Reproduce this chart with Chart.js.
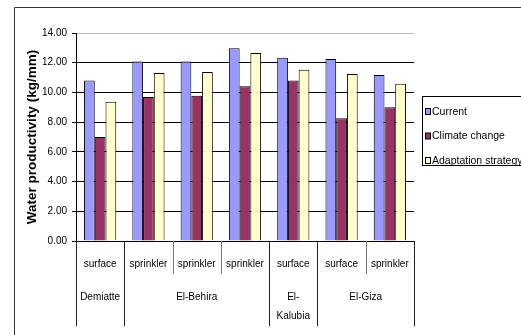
<!DOCTYPE html>
<html>
<head>
<meta charset="utf-8">
<script src="https://cdn.jsdelivr.net/npm/chart.js@4.4.0/dist/chart.umd.min.js"></script>
<style>
  html, body { margin: 0; padding: 0; background: #fff; }
  canvas { display: block; }
</style>
</head>
<body>
<canvas id="wpChart" width="521" height="335"></canvas>
<script>
// water productivity per site / irrigation system
const regions = ['Demiatte', 'El-Behira', 'El-Behira', 'El-Behira', 'El-Kalubia', 'El-Giza', 'El-Giza'];
const systems = ['surface', 'sprinkler', 'sprinkler', 'sprinkler', 'surface', 'surface', 'sprinkler'];
const current = [10.81, 12.09, 12.09, 12.97, 12.33, 12.25, 11.17];
const climateChange = [7.00, 9.69, 9.78, 10.41, 10.81, 8.26, 9.00];
const adaptation = [9.38, 11.31, 11.37, 12.65, 11.53, 11.24, 10.59];
const seriesNames = ['Current', 'Climate change', 'Adaptation strategy'];
const yTicks = [0, 2, 4, 6, 8, 10, 12, 14];

const FONT = '"Liberation Sans", Arial, sans-serif';

// white page + outer chart frame
const frame = {
    id: 'frame',
    beforeDraw(chart) {
        const ctx = chart.ctx;
        ctx.save();
        ctx.fillStyle = '#fff';
        ctx.fillRect(0, 0, chart.width, chart.height);
        ctx.strokeStyle = '#333';
        ctx.lineWidth = 1;
        ctx.beginPath();
        ctx.moveTo(14.5, chart.height);
        ctx.lineTo(14.5, 7.5);
        ctx.lineTo(chart.width, 7.5);
        ctx.stroke();
        ctx.restore();
    }
};

// two-level category axis: system on the first row, region below
const xLevels = {
    id: 'xLevels',
    afterDraw(chart) {
        const { ctx, chartArea, scales: { x } } = chart;
        const edge = i => x.getPixelForValue(i - 0.5);
        const top = chartArea.bottom;

        const groups = [];
        regions.forEach((r, i) => {
            const g = groups[groups.length - 1];
            if (g && g.name === r) g.end = i;
            else groups.push({ name: r, start: i, end: i });
        });
        const groupEdges = new Set();
        groups.forEach(g => { groupEdges.add(g.start); groupEdges.add(g.end + 1); });

        ctx.save();
        ctx.lineWidth = 1;
        for (let i = 0; i <= systems.length; i++) {
            const px = Math.round(edge(i)) + 0.5;
            const outer = groupEdges.has(i);
            ctx.strokeStyle = outer ? '#222' : '#777';
            ctx.beginPath();
            ctx.moveTo(px, top);
            ctx.lineTo(px, outer ? top + 85 : top + 33);
            ctx.stroke();
        }

        ctx.fillStyle = '#000';
        ctx.font = '10px ' + FONT;
        ctx.textAlign = 'center';
        ctx.textBaseline = 'middle';
        systems.forEach((s, i) => ctx.fillText(s, x.getPixelForValue(i), top + 23));

        groups.forEach(g => {
            const cx = (edge(g.start) + edge(g.end + 1)) / 2;
            const w = edge(g.end + 1) - edge(g.start) - 6;
            let lines = [g.name];
            if (ctx.measureText(g.name).width > w && g.name.includes('-')) {
                const k = g.name.indexOf('-') + 1;
                lines = [g.name.slice(0, k), g.name.slice(k)];
            }
            lines.forEach((t, j) => ctx.fillText(t, cx, top + 56 + j * 19));
        });
        ctx.restore();
    }
};

// rotated y title and boxed legend on the right
const extras = {
    id: 'extras',
    afterDraw(chart) {
        const { ctx, chartArea } = chart;
        ctx.save();
        ctx.fillStyle = '#000';
        ctx.font = 'bold 13.5px ' + FONT;
        ctx.textAlign = 'center';
        ctx.textBaseline = 'middle';
        ctx.translate(32, (chartArea.top + chartArea.bottom) / 2);
        ctx.rotate(-Math.PI / 2);
        ctx.fillText('Water productivity (kg/mm)', 0, 0);
        ctx.restore();

        ctx.save();
        ctx.strokeStyle = '#000';
        ctx.lineWidth = 1;
        ctx.fillStyle = '#fff';
        ctx.fillRect(422.5, 96.5, 110, 69);
        ctx.strokeRect(422.5, 96.5, 110, 69);
        ctx.font = '10.5px ' + FONT;
        ctx.textBaseline = 'middle';
        chart.data.datasets.forEach((ds, i) => {
            const y = 112 + i * 24.5;
            ctx.fillStyle = ds.backgroundColor;
            ctx.fillRect(425.5, y - 3.5, 5, 6);
            ctx.strokeRect(425.5, y - 3.5, 5, 6);
            ctx.fillStyle = '#000';
            ctx.fillText(ds.label, 432, y);
        });
        ctx.restore();
    }
};

new Chart(document.getElementById('wpChart'), {
    type: 'bar',
    data: {
        labels: systems,
        datasets: [
            { label: seriesNames[0], data: current, backgroundColor: '#9999ff' },
            { label: seriesNames[1], data: climateChange, backgroundColor: '#993366' },
            { label: seriesNames[2], data: adaptation, backgroundColor: '#ffffcc' }
        ].map(ds => Object.assign(ds, {
            borderColor: '#000',
            borderWidth: 1,
            categoryPercentage: 0.667,
            barPercentage: 1
        }))
    },
    options: {
        responsive: false,
        animation: false,
        layout: { padding: { left: 0, top: 33, right: 107, bottom: 0 } },
        plugins: { legend: { display: false }, tooltip: { enabled: false } },
        scales: {
            x: {
                grid: { display: false },
                border: { color: '#000' },
                ticks: { display: false },
                afterFit: s => { s.height = 94; }
            },
            y: {
                min: 0,
                max: 14,
                afterBuildTicks: s => { s.ticks = yTicks.map(v => ({ value: v })); },
                afterFit: s => { s.width = 76; },
                grid: {
                    color: c => (c.tick && c.tick.value === 14 ? '#bbb' : '#000'),
                    tickColor: '#000',
                    tickLength: 4,
                    lineWidth: 1
                },
                border: { color: '#000' },
                ticks: {
                    padding: 5,
                    color: '#000',
                    font: { family: FONT, size: 10 },
                    callback: v => v.toFixed(2)
                }
            }
        }
    },
    plugins: [frame, xLevels, extras]
});
</script>
</body>
</html>
